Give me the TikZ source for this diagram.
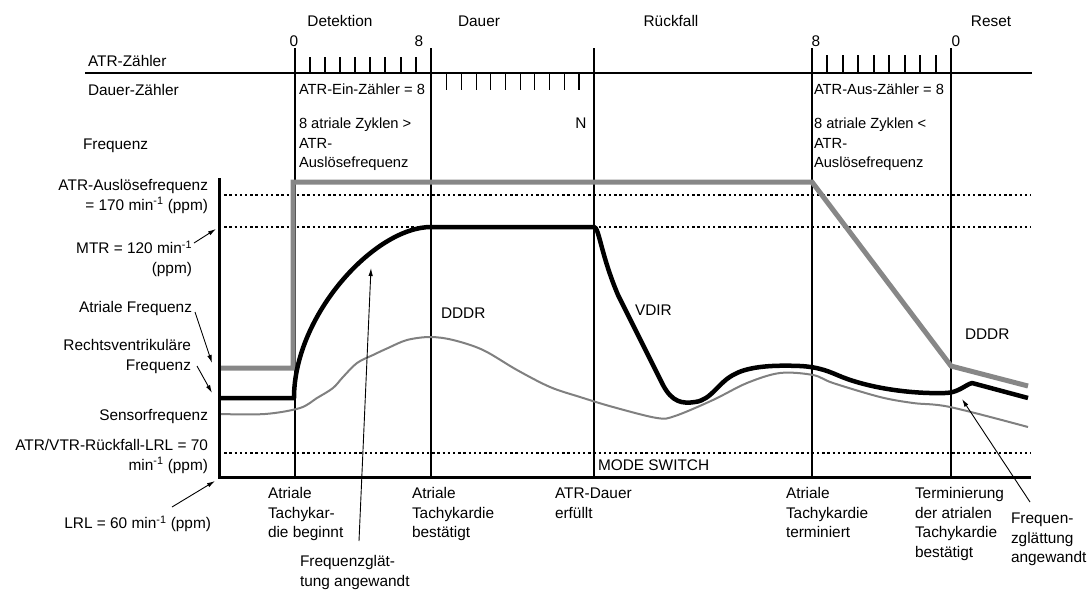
\documentclass[tikz,border=0pt]{standalone}
\usepackage{fontspec}
\setmainfont{Liberation Sans}
\usetikzlibrary{arrows.meta}
\newcommand\hs{\rule{0pt}{11.8pt}}
\newcommand\mo{min\textsuperscript{-1}}
\begin{document}
\begin{tikzpicture}[x=1pt,y=-1pt,
  txt/.style={font=\fontsize{15.4}{19.4}\selectfont, inner sep=0pt, outer sep=0pt},
  tl/.style={txt, anchor=north west, align=left},
  tr/.style={txt, anchor=north east, align=right},
  tc/.style={txt, anchor=north, align=center},
  boxtxt/.style={tl, font=\fontsize{14.7}{19.4}\selectfont},
  vline/.style={line width=1.2pt},
  tick/.style={line width=1.1pt},
  dotline/.style={line width=2.4pt, dash pattern=on 2.4pt off 2.8pt},
  axis/.style={line width=3pt, line join=miter},
  atrline/.style={line width=5pt, color=black!47, line join=miter},
  rvline/.style={line width=4.5pt, line join=round},
  sensline/.style={line width=2pt, color=black!50},
  ann/.style={line width=0.9pt, -{Latex[length=8pt,width=4.5pt]}}
]
\useasboundingbox (0,0) rectangle (1090,590);

% dotted levels
\draw[dotline] (219,195) -- (1031,195);
\draw[dotline] (219,227) -- (1031,227);
\draw[dotline] (219,453) -- (1031,453);

% counter line
\draw[line width=1.4pt] (85,73) -- (1032,73);

% vertical phase lines
\foreach \x in {295,431,594,812,951} \draw[vline] (\x,48) -- (\x,477);

% ticks
\foreach \x in {310,325,340,355,370,385,401,416} \draw[tick] (\x,57) -- (\x,73);
\foreach \i in {0,...,9} \draw[tick] ({446.7+14.7*\i},73) -- ({446.7+14.7*\i},90);
\foreach \x in {827,843,858,874,889,905,920,936} \draw[tick] (\x,55) -- (\x,73);

% sensor rate
\draw[sensline] plot[smooth, tension=0.55] coordinates {(219,414) (265,414) (300,408) (317,398) (333,388) (343,377) (357,363) (373,355) (388,348) (407,340) (430,337) (453,340) (483,350) (517,370) (550,387) (580,397) (613,407) (657,418) (675,416) (713,400) (747,383) (780,373) (813,375) (833,383) (880,397) (913,403) (950,407) (1028,427)};

% atrial rate
\draw[atrline] (219,368) -- (293,368) -- (293,182) -- (812,182) -- (951,366) -- (1028,386);

% ventricular rate
\draw[rvline] (219,398) -- (294,398) .. controls (294,315) and (375,227) .. (431,227) -- (594,227)
  .. controls (599,227) and (601,255) .. (618,295) -- (663,385)
  .. controls (672,402) and (682,404) .. (695,402)
  .. controls (712,400) and (718,382) .. (735,374)
  .. controls (750,366) and (775,365) .. (800,366)
  .. controls (820,367) and (830,372) .. (842,377)
  .. controls (870,388) and (910,394) .. (945,393)
  .. controls (958,393) and (965,385) .. (972,383) -- (1028,398);

% axes
\draw[axis] (219,178) -- (219,477) -- (1031,477);

% top labels
\node[tc] (detektion) at (340,15) {\hs Detektion};
\node[tc] (dauer) at (479,15) {\hs Dauer};
\node[tc] (rueckfall) at (671,15) {\hs Rückfall};
\node[tc] (reset) at (991,15) {\hs Reset};
\node[tc] (n0a) at (294,35) {\hs 0};
\node[tc] (n8a) at (419,35) {\hs 8};
\node[tc] (n8b) at (816,35) {\hs 8};
\node[tc] (n0b) at (956,35) {\hs 0};

% row labels
\node[tl] (atrz) at (88,55) {\hs ATR-Zähler};
\node[tl] (dauerz) at (88,84) {\hs Dauer-Zähler};
\node[tl] (freq) at (83,138) {\hs Frequenz};

\node[boxtxt] (einz) at (299,83) {\hs ATR-Ein-Zähler = 8};
\node[boxtxt] (zykl1) at (299,117) {\hs 8 atriale Zyklen >\\ATR-\\Auslösefrequenz};
\node[tc] (nn) at (581,117) {\hs N};
\node[boxtxt] (ausz) at (814,83) {\hs ATR-Aus-Zähler = 8};
\node[boxtxt] (zykl2) at (814,117) {\hs 8 atriale Zyklen <\\ATR-\\Auslösefrequenz};

% left axis labels
\node[tr] (atrausl) at (208,179) {\hs ATR-Auslösefrequenz\\= 170 \mo{} (ppm)};
\node[tr] (mtr) at (192,241) {\hs MTR = 120 \mo\\(ppm)};
\node[tr] (atrfreq) at (192,301) {\hs Atriale Frequenz};
\node[tr] (rvfreq) at (191,339) {\hs Rechtsventrikuläre\\Frequenz};
\node[tr] (sensor) at (208,409) {\hs Sensorfrequenz};
\node[tr] (vtr) at (208,439) {\hs ATR/VTR-Rückfall-LRL = 70\\\mo{} (ppm)};
\node[tr] (lrl) at (211,516) {\hs LRL = 60 \mo{} (ppm)};

% chart labels
\node[tl] (dddr1) at (441,307) {\hs DDDR};
\node[tl] (vdir) at (635,304) {\hs VDIR};
\node[tl] (dddr2) at (965,328) {\hs DDDR};
\node[tl] (mode) at (598,459) {\hs MODE SWITCH};

% bottom labels
\node[tl] (b1) at (268,487) {\hs Atriale\\Tachykar-\\die beginnt};
\node[tl] (b2) at (412,487) {\hs Atriale\\Tachykardie\\bestätigt};
\node[tl] (b3) at (555,487) {\hs ATR-Dauer\\erfüllt};
\node[tl] (b4) at (786,487) {\hs Atriale\\Tachykardie\\terminiert};
\node[tl] (b5) at (915,487) {\hs Terminierung\\der atrialen\\Tachykardie\\bestätigt};
\node[tl] (b6) at (1011,512) {\hs Frequen-\\zglättung\\angewandt};
\node[tl] (b7) at (300,555) {\hs Frequenzglät-\\tung angewandt};

% annotation arrows
\coordinate (mtrS) at (194,243);  \coordinate (mtrE) at (216,229);
\coordinate (afS) at (195,312);   \coordinate (afE) at (212,363);
\coordinate (rvS) at (197,366);   \coordinate (rvE) at (212,393);
\coordinate (lrlS) at (172,507);  \coordinate (lrlE) at (215,481);
\coordinate (fg1S) at (359,541);  \coordinate (fg1E) at (371,268);
\coordinate (fg2S) at (1030,502); \coordinate (fg2E) at (962,399);
\draw[ann] (mtrS) -- (mtrE);
\draw[ann] (afS) -- (afE);
\draw[ann] (rvS) -- (rvE);
\draw[ann] (lrlS) -- (lrlE);
\draw[ann] (fg1S) -- (fg1E);
\draw[ann] (fg2S) -- (fg2E);
\end{tikzpicture}
\end{document}
